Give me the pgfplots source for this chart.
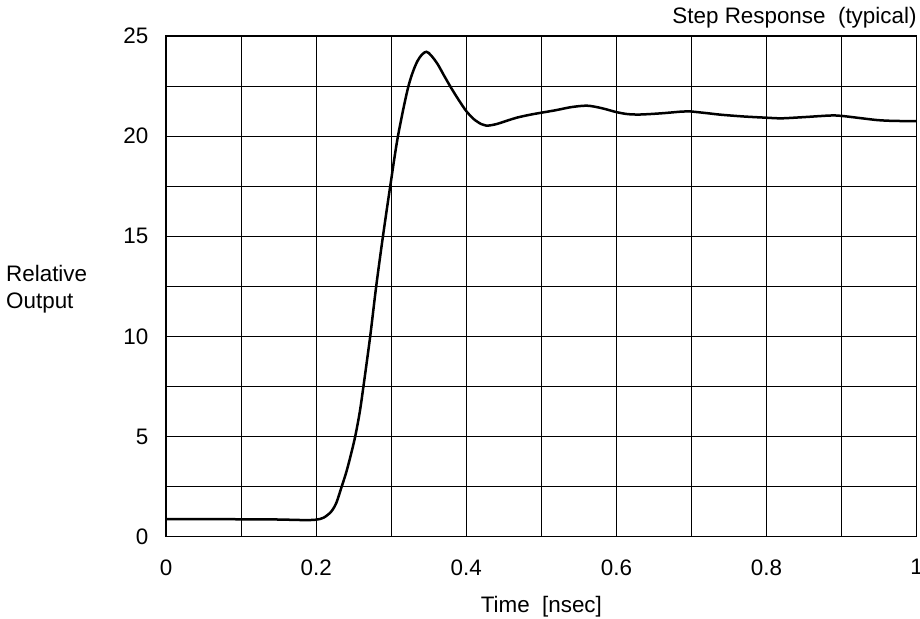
\documentclass[border=0pt]{standalone}
\usepackage{fontspec}
\setmainfont{Liberation Sans}
\usepackage{pgfplots}
\pgfplotsset{compat=1.18}

% step response
\pgfplotstableread{
t      v
0.000  0.88
0.050  0.88
0.100  0.87
0.130  0.87
0.160  0.85
0.185  0.83
0.200  0.85
0.210  0.95
0.220  1.25
0.227  1.70
0.234  2.50
0.240  3.20
0.246  4.05
0.252  5.00
0.258  6.20
0.263  7.50
0.272  10.0
0.280  12.5
0.289  15.0
0.2987 17.5
0.309  20.0
0.323  22.5
0.335  23.75
0.347  24.21
0.360  23.70
0.370  23.05
0.380  22.40
0.390  21.80
0.400  21.25
0.410  20.85
0.420  20.60
0.427  20.52
0.440  20.60
0.455  20.78
0.468  20.93
0.485  21.07
0.500  21.17
0.520  21.30
0.540  21.45
0.561  21.52
0.580  21.40
0.600  21.20
0.615  21.10
0.632  21.08
0.660  21.14
0.685  21.22
0.696  21.24
0.720  21.15
0.739  21.07
0.770  20.98
0.800  20.92
0.820  20.89
0.850  20.95
0.885  21.03
0.900  21.01
0.925  20.90
0.948  20.80
0.970  20.76
1.000  20.75
}\steptable

\begin{document}
\fontsize{22.4}{26}\selectfont
\begin{tikzpicture}
\begin{axis}[
    scale only axis,
    width=750.7pt, height=500.7pt,
    xmin=0, xmax=1, ymin=0, ymax=25,
    xtick={0,0.2,0.4,0.6,0.8,1},
    ytick={0,5,10,15,20,25},
    minor xtick={0.1,0.3,0.5,0.7,0.9},
    minor ytick={2.5,7.5,12.5,17.5,22.5},
    grid=both,
    major grid style={black, line width=1pt},
    minor grid style={black, line width=1pt},
    tick style={draw=none},
    axis line style={black, line width=1.5pt},
    /pgf/number format/assume math mode=true,
    xticklabel style={yshift=-15pt},
    yticklabel style={xshift=-10pt},
    xlabel={Time\ \ [nsec]},
    every axis x label/.style={at={(axis description cs:0.5,0)}, anchor=north, inner sep=0pt, yshift=-59pt},
    ylabel={Relative\\Output},
    every axis y label/.style={at={(axis description cs:0,0.494)}, anchor=west, align=left, inner sep=0pt, xshift=-160pt, font=\fontsize{22.4}{27.5}\selectfont},
    title={Step Response\ \ (typical)},
    every axis title/.style={at={(axis description cs:1,1)}, anchor=base east, inner sep=0pt, yshift=12.7pt},
]
\addplot[black, line width=2.5pt, smooth] table[x=t, y=v] {\steptable};
\end{axis}
\pgfresetboundingbox
\useasboundingbox (-166pt,-81.3pt) rectangle (754pt,536.7pt);
\end{tikzpicture}
\end{document}
